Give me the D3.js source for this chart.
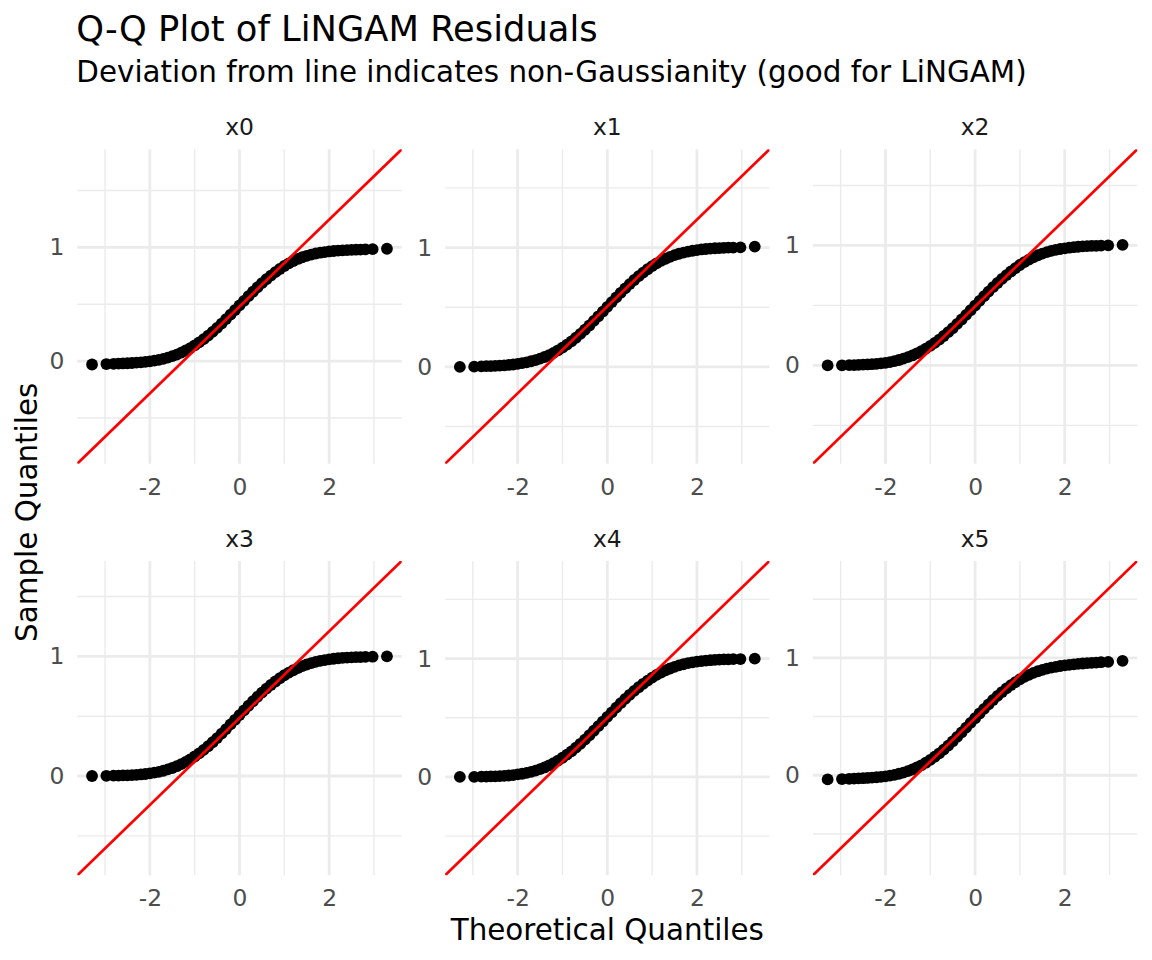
<!DOCTYPE html>
<html>
<head>
<meta charset="utf-8">
<script src="https://cdn.jsdelivr.net/npm/d3@7"></script>
<style>
  body { margin: 0; background: #fff; }
  svg { display: block; font-family: "DejaVu Sans", sans-serif; }
</style>
</head>
<body>
<div id="chart"></div>
<script>
// panels (facets) of the plot
const panels = ["x0", "x1", "x2", "x3", "x4", "x5"];

// theoretical quantiles, shared by every panel
const theoretical = [
  -3.29, -2.97, -2.81, -2.7, -2.6, -2.5, -2.4, -2.3, -2.2, -2.1, -2.0,
  -1.9, -1.8, -1.7, -1.6, -1.5, -1.4, -1.3, -1.2, -1.1, -1.0,
  -0.9, -0.8, -0.7, -0.6, -0.5, -0.4, -0.3, -0.2, -0.1, 0,
  0.1, 0.2, 0.3, 0.4, 0.5, 0.6, 0.7, 0.8, 0.9, 1.0,
  1.1, 1.2, 1.3, 1.4, 1.5, 1.6, 1.7, 1.8, 1.9, 2.0,
  2.1, 2.2, 2.3, 2.4, 2.5, 2.6, 2.7, 2.81, 2.97, 3.29
];

// sample quantiles, one array per panel
const sampleX0 = [
  -0.030, -0.026, -0.024, -0.022, -0.021, -0.019, -0.017, -0.014, -0.011, -0.007, -0.002,
  0.004, 0.011, 0.020, 0.031, 0.043, 0.057, 0.074, 0.093, 0.114, 0.138,
  0.164, 0.193, 0.224, 0.257, 0.292, 0.330, 0.369, 0.408, 0.449, 0.490,
  0.530, 0.571, 0.610, 0.648, 0.685, 0.720, 0.752, 0.782, 0.810, 0.836,
  0.859, 0.880, 0.898, 0.913, 0.926, 0.937, 0.946, 0.953, 0.959, 0.964,
  0.968, 0.971, 0.974, 0.976, 0.978, 0.980, 0.981, 0.982, 0.984, 0.988
];
const sampleX1 = [
  0.000, 0.002, 0.004, 0.006, 0.007, 0.009, 0.011, 0.013, 0.016, 0.020, 0.025,
  0.031, 0.038, 0.047, 0.057, 0.069, 0.083, 0.099, 0.117, 0.138, 0.161,
  0.186, 0.214, 0.244, 0.277, 0.311, 0.347, 0.385, 0.424, 0.463, 0.503,
  0.543, 0.582, 0.621, 0.658, 0.694, 0.728, 0.760, 0.790, 0.818, 0.844,
  0.867, 0.888, 0.906, 0.922, 0.936, 0.948, 0.958, 0.966, 0.973, 0.979,
  0.984, 0.988, 0.991, 0.994, 0.996, 0.998, 0.999, 1.000, 1.002, 1.008
];
const sampleX2 = [
  0.000, 0.001, 0.002, 0.003, 0.004, 0.006, 0.008, 0.010, 0.013, 0.017, 0.022,
  0.028, 0.036, 0.045, 0.056, 0.069, 0.083, 0.100, 0.119, 0.140, 0.163,
  0.188, 0.215, 0.245, 0.277, 0.310, 0.346, 0.383, 0.421, 0.460, 0.499,
  0.538, 0.577, 0.615, 0.652, 0.687, 0.721, 0.753, 0.783, 0.811, 0.837,
  0.861, 0.882, 0.901, 0.918, 0.932, 0.944, 0.954, 0.963, 0.970, 0.976,
  0.981, 0.985, 0.989, 0.992, 0.994, 0.996, 0.997, 0.999, 1.001, 1.005
];
const sampleX3 = [
  0.000, 0.002, 0.003, 0.004, 0.005, 0.006, 0.008, 0.010, 0.013, 0.017, 0.022,
  0.028, 0.035, 0.044, 0.055, 0.067, 0.082, 0.099, 0.118, 0.139, 0.163,
  0.189, 0.218, 0.249, 0.282, 0.317, 0.354, 0.392, 0.431, 0.470, 0.509,
  0.548, 0.587, 0.625, 0.662, 0.697, 0.730, 0.761, 0.790, 0.817, 0.842,
  0.864, 0.884, 0.902, 0.918, 0.932, 0.944, 0.954, 0.962, 0.969, 0.975,
  0.980, 0.984, 0.987, 0.990, 0.992, 0.993, 0.994, 0.995, 0.997, 1.000
];
const sampleX4 = [
  0.000, 0.001, 0.002, 0.003, 0.004, 0.005, 0.007, 0.009, 0.012, 0.016, 0.021,
  0.027, 0.034, 0.043, 0.053, 0.066, 0.080, 0.097, 0.116, 0.138, 0.162,
  0.188, 0.216, 0.247, 0.280, 0.315, 0.352, 0.390, 0.429, 0.468, 0.507,
  0.546, 0.585, 0.623, 0.659, 0.694, 0.727, 0.758, 0.787, 0.814, 0.839,
  0.862, 0.882, 0.900, 0.916, 0.930, 0.942, 0.952, 0.961, 0.968, 0.974,
  0.979, 0.983, 0.986, 0.989, 0.991, 0.993, 0.994, 0.995, 0.996, 0.999
];
const sampleX5 = [
  -0.035, -0.032, -0.030, -0.029, -0.027, -0.025, -0.023, -0.020, -0.017, -0.013, -0.009,
  -0.003, 0.004, 0.013, 0.023, 0.035, 0.049, 0.066, 0.085, 0.107, 0.131,
  0.158, 0.187, 0.219, 0.253, 0.289, 0.327, 0.366, 0.406, 0.446, 0.486,
  0.526, 0.566, 0.604, 0.641, 0.676, 0.709, 0.740, 0.768, 0.794, 0.817,
  0.838, 0.856, 0.872, 0.886, 0.898, 0.908, 0.917, 0.924, 0.931, 0.936,
  0.941, 0.945, 0.949, 0.952, 0.955, 0.958, 0.960, 0.963, 0.966, 0.975
];
const samples = [sampleX0, sampleX1, sampleX2, sampleX3, sampleX4, sampleX5];

// reference line (qq line) of each panel
const lineIntercept = [0.480, 0.506, 0.491, 0.484, 0.497, 0.487];
const lineSlope = [0.382, 0.364, 0.362, 0.363, 0.367, 0.370];

// ticks and grid breaks
const xTicks = [-2, 0, 2];
const xMinor = [-3, -1, 1, 3];
const yTicks = [0, 1];
const yMinor = [-0.5, 0.5, 1.5];

const titleText = "Q-Q Plot of LiNGAM Residuals";
const subtitleText = "Deviation from line indicates non-Gaussianity (good for LiNGAM)";
const xLabel = "Theoretical Quantiles";
const yLabel = "Sample Quantiles";

const size = { x: 1152, y: 960 };
const margin = { top: 149.3, right: 14.7, bottom: 84.7, left: 77.3 };
const gap = { x: 43.4, y: 97.2 };
const cols = 3;
const panelSize = {
  x: (size.x - margin.left - margin.right - gap.x * (cols - 1)) / cols,
  y: (size.y - margin.top - margin.bottom - gap.y) / 2
};

const axisFont = 23.4;

const svg = d3
  .select("#chart")
  .append("svg")
  .attr("width", size.x)
  .attr("height", size.y);

svg.append("text")
  .text(titleText)
  .attr("x", margin.left - 1)
  .attr("y", 41)
  .attr("font-size", 35.3)
  .attr("fill", "#000");

svg.append("text")
  .text(subtitleText)
  .attr("x", margin.left - 1)
  .attr("y", 82)
  .attr("font-size", 29.4)
  .attr("fill", "#000");

// ggplot-like expansion of 5% on each side
const expand = ([a, b]) => [a - (b - a) * 0.05, b + (b - a) * 0.05];

const xExtent = d3.extent(theoretical);

panels.forEach((name, i) => {
  const col = i % cols;
  const row = Math.floor(i / cols);
  const px = margin.left + col * (panelSize.x + gap.x);
  const py = margin.top + row * (panelSize.y + gap.y);

  const lineAt = (t) => lineIntercept[i] + lineSlope[i] * t;

  const xScale = d3.scaleLinear()
    .domain(expand(xExtent))
    .range([0, panelSize.x]);

  const yScale = d3.scaleLinear()
    .domain(expand([lineAt(xExtent[0]), lineAt(xExtent[1])]))
    .range([panelSize.y, 0]);

  const g = svg.append("g")
    .attr("transform", `translate(${px},${py})`);

  g.append("clipPath")
    .attr("id", `clip${i}`)
    .append("rect")
    .attr("width", panelSize.x)
    .attr("height", panelSize.y);

  // grid
  const grid = g.append("g");
  grid.selectAll(".xminor").data(xMinor).enter().append("line")
    .attr("x1", d => xScale(d)).attr("x2", d => xScale(d))
    .attr("y1", 0).attr("y2", panelSize.y)
    .attr("stroke", "#ebebeb").attr("stroke-width", 1.4);
  grid.selectAll(".yminor").data(yMinor).enter().append("line")
    .attr("x1", 0).attr("x2", panelSize.x)
    .attr("y1", d => yScale(d)).attr("y2", d => yScale(d))
    .attr("stroke", "#ebebeb").attr("stroke-width", 1.4);
  grid.selectAll(".xmajor").data(xTicks).enter().append("line")
    .attr("x1", d => xScale(d)).attr("x2", d => xScale(d))
    .attr("y1", 0).attr("y2", panelSize.y)
    .attr("stroke", "#ebebeb").attr("stroke-width", 2.8);
  grid.selectAll(".ymajor").data(yTicks).enter().append("line")
    .attr("x1", 0).attr("x2", panelSize.x)
    .attr("y1", d => yScale(d)).attr("y2", d => yScale(d))
    .attr("stroke", "#ebebeb").attr("stroke-width", 2.8);

  // axes
  const xAxis = g.append("g")
    .attr("transform", `translate(0,${panelSize.y})`)
    .call(d3.axisBottom(xScale).tickValues(xTicks).tickSize(0).tickPadding(14.5).tickFormat(d3.format("d")));
  const yAxis = g.append("g")
    .call(d3.axisLeft(yScale).tickValues(yTicks).tickSize(0).tickPadding(13).tickFormat(d3.format("d")));
  [xAxis, yAxis].forEach(a => {
    a.select(".domain").remove();
    a.attr("font-family", null)
      .attr("font-size", axisFont)
      .selectAll("text").attr("fill", "#4d4d4d");
  });
  xAxis.selectAll("text").text(d => d < 0 ? `-${Math.abs(d)}` : d);

  // points
  g.append("g")
    .attr("clip-path", `url(#clip${i})`)
    .selectAll("circle")
    .data(theoretical.map((t, k) => [t, samples[i][k]]))
    .enter()
    .append("circle")
    .attr("cx", d => xScale(d[0]))
    .attr("cy", d => yScale(d[1]))
    .attr("r", 5.9)
    .attr("fill", "#000");

  // qq line, drawn over the full panel width
  const xd = xScale.domain();
  g.append("line")
    .attr("clip-path", `url(#clip${i})`)
    .attr("x1", xScale(xd[0])).attr("y1", yScale(lineAt(xd[0])))
    .attr("x2", xScale(xd[1])).attr("y2", yScale(lineAt(xd[1])))
    .attr("stroke", "#ff0000")
    .attr("stroke-width", 2.7);

  // strip label
  g.append("text")
    .text(name)
    .attr("x", panelSize.x / 2)
    .attr("y", -14)
    .attr("text-anchor", "middle")
    .attr("font-size", axisFont)
    .attr("fill", "#1a1a1a");
});

svg.append("text")
  .text(xLabel)
  .attr("x", margin.left + (size.x - margin.left - margin.right) / 2)
  .attr("y", 940)
  .attr("text-anchor", "middle")
  .attr("font-size", 29.4)
  .attr("fill", "#000");

svg.append("text")
  .text(yLabel)
  .attr("transform", "rotate(-90)")
  .attr("x", -(margin.top + (size.y - margin.top - margin.bottom) / 2))
  .attr("y", 37)
  .attr("text-anchor", "middle")
  .attr("font-size", 29.4)
  .attr("fill", "#000");
</script>
</body>
</html>
